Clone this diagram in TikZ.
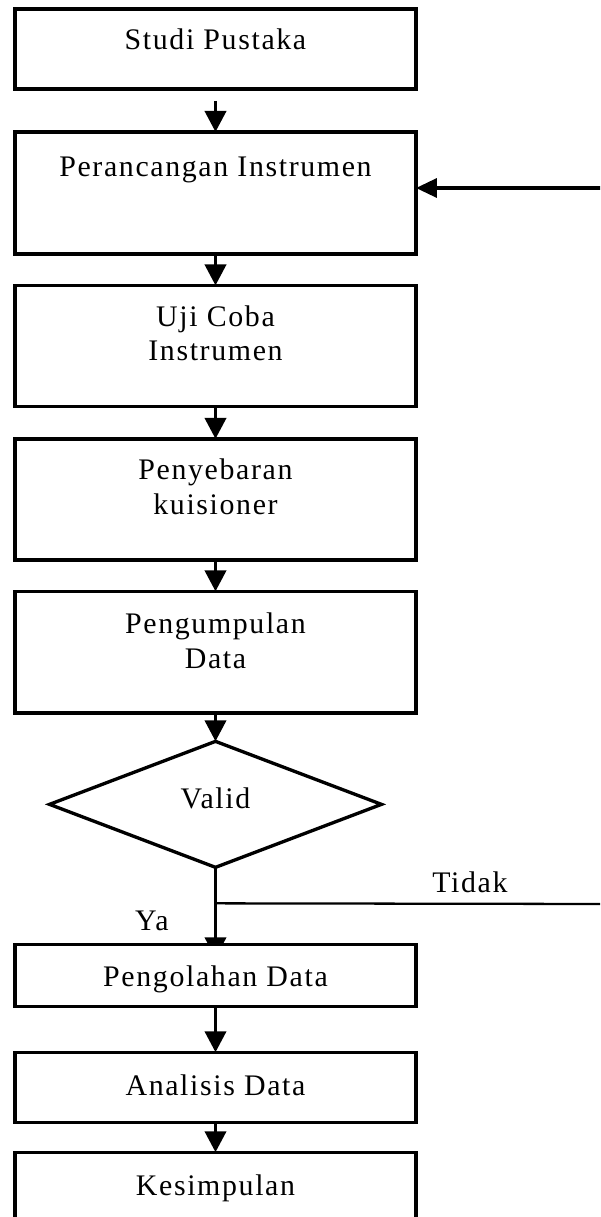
\documentclass[tikz,border=0pt]{standalone}
\usepackage{fontspec}
\setmainfont{Liberation Serif}[LetterSpace=5.5]
\usetikzlibrary{arrows.meta, 
                positioning, 
                shapes.geometric}
\usetikzlibrary{backgrounds}
\tikzset{box/.style={draw, line width=1.9pt, fill=white, minimum width=8.02cm,
        inner sep=0pt, outer sep=0pt},
    valid/.style={diamond, draw, line width=1.9pt, fill=white, minimum width=6.64cm,
        minimum height=2.52cm, inner sep=0pt, outer sep=0pt,
        font=\fontsize{17}{19.7}\selectfont, text depth=0.23cm},
    lbl/.style={inner sep=0pt, align=center, font=\fontsize{17}{19.7}\selectfont},
    flow/.style={line width=2.2pt, -{Triangle[length=0.42cm, width=0.42cm]}},
    back/.style={line width=1.3pt}}

\begin{document}
\begin{tikzpicture}[x=0.02cm, y=-0.02cm]
        \useasboundingbox (0,0) rectangle (600,1217);
        \clip (0,0) rectangle (600,1217);
        \node[box, minimum height=1.6cm] (b1) at (215.5,49) {};
        \node[box, minimum height=2.44cm, below=0.86cm of b1] (b2) {};
        \node[box, minimum height=2.42cm, below=0.63cm of b2] (b3) {};
        \node[box, minimum height=2.42cm, below=0.65cm of b3] (b4) {};
        \node[box, minimum height=2.43cm, below=0.63cm of b4] (b5) {};
        \node[valid, below=0.57cm of b5] (dv) {Valid};
        \node[box, minimum height=1.24cm, below=1.54cm of dv] (b6) {};
        \node[box, minimum height=1.4cm, below=0.92cm of b6] (b7) {};
        \node[box, minimum height=1.6cm, below=0.6cm of b7] (b8) {};

        \node[lbl, below=0.39cm of b1.north] (t1) {Studi Pustaka};
        \node[lbl, below=0.49cm of b2.north] (t2) {Perancangan Instrumen};
        \node[lbl, below=0.39cm of b3.north] (t3) {Uji Coba\\Instrumen};
        \node[lbl, below=0.39cm of b4.north] (t4) {Penyebaran\\kuisioner};
        \node[lbl, below=0.43cm of b5.north] (t5) {Pengumpulan\\Data};
        \node[lbl, below=0.42cm of b6.north] (t6) {Pengolahan Data};
        \node[lbl, below=0.44cm of b7.north] (t7) {Analisis Data};
        \node[lbl, below=0.44cm of b8.north] (t8) {Kesimpulan};

        \draw[flow, shorten <=0.24cm] (b1.south) -- (b2.north);
        \draw[flow] (b2.south) -- (b3.north);
        \draw[flow] (b3.south) -- (b4.north);
        \draw[flow] (b4.south) -- (b5.north);
        \draw[flow] (b5.south) -- (dv.north);
        \draw[flow] (b6.south) -- (b7.north);
        \draw[flow] (b7.south) -- (b8.north);

        \coordinate[below=0.72cm of dv.south] (jt);
        \coordinate (rt) at (615,904);
        \coordinate (rb) at (615,188);
        \begin{scope}[on background layer]
            \draw[flow, shorten >=-0.28cm] (dv.south) -- node[lbl, pos=0.7, left=0.9cm] {Ya} (b6.north);
        \end{scope}
        \draw[back] (jt) -- node[lbl, pos=0.637, above=0.2cm] {Tidak} (rt) -- (rb);
        \draw[flow, line width=1.9pt, -{Triangle[length=0.42cm, width=0.38cm]}] (rb) -- (rb -| b2.east);
    \end{tikzpicture}
\end{document}
